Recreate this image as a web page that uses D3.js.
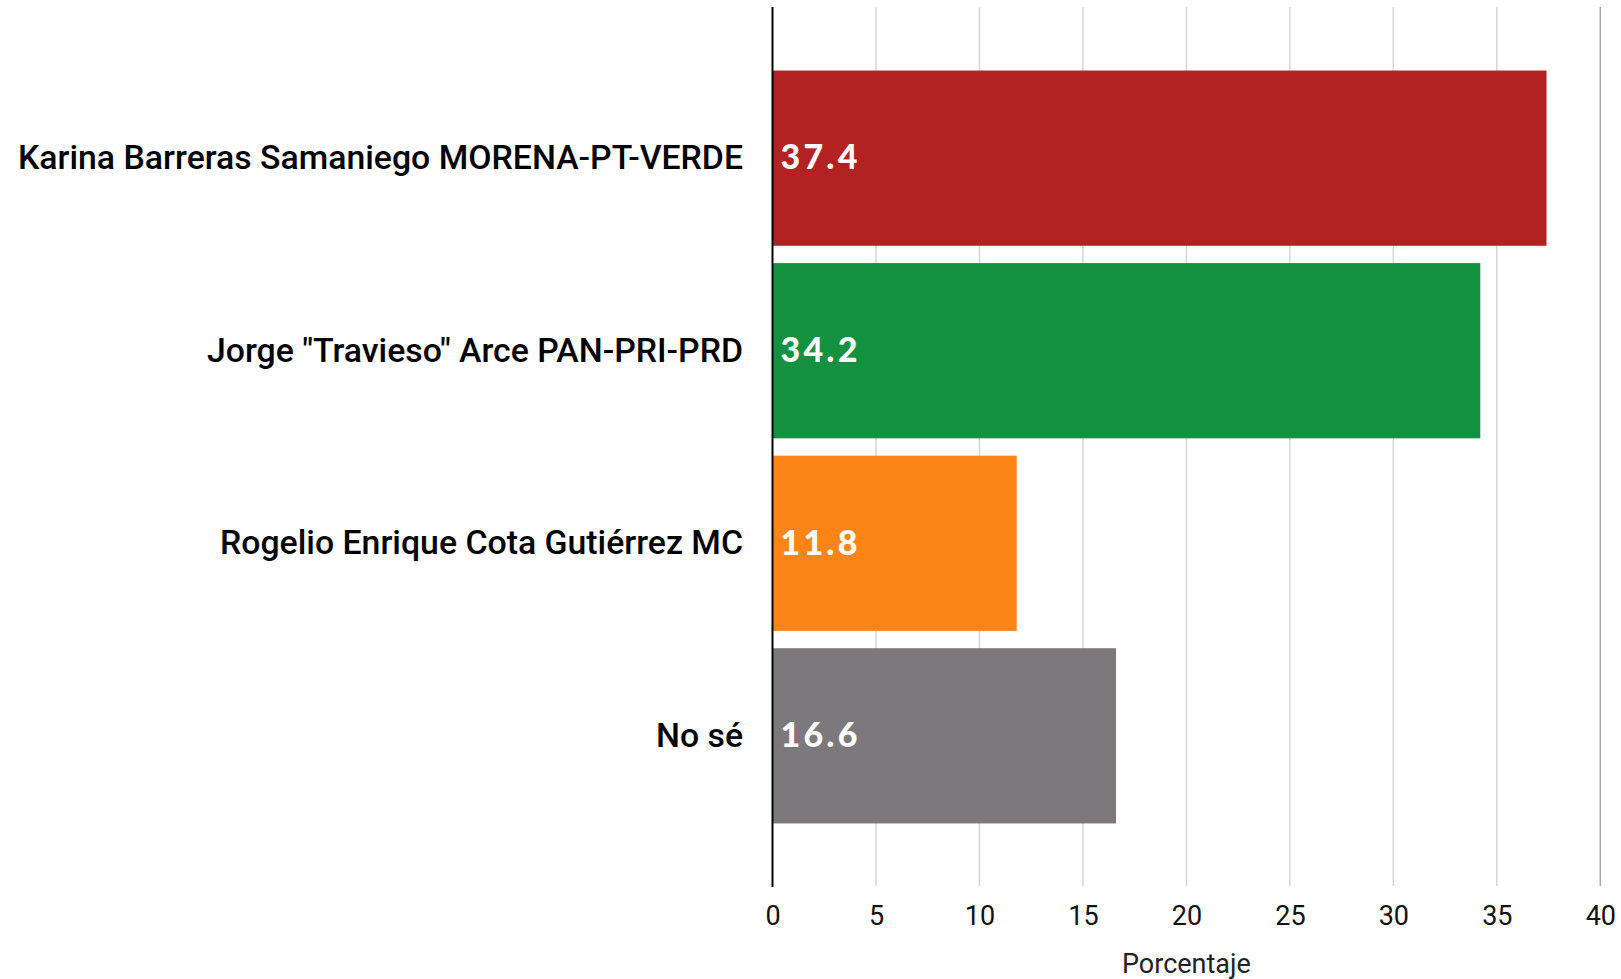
<!DOCTYPE html>
<html>
<head>
<meta charset="utf-8">
<script src="https://cdn.jsdelivr.net/npm/d3@7/dist/d3.min.js"></script>
<style>
  html, body { margin: 0; padding: 0; background: #ffffff; }
  svg { display: block; }
</style>
</head>
<body>
<svg id="chart" width="1621" height="979"></svg>
<script>
const categories = [
  "Karina Barreras Samaniego MORENA-PT-VERDE",
  "Jorge \"Travieso\" Arce PAN-PRI-PRD",
  "Rogelio Enrique Cota Gutiérrez MC",
  "No sé"
];
const values = [37.4, 34.2, 11.8, 16.6];
const barColors = ["#b22222", "#139140", "#fd8518", "#7c787c"];
const xTicks = [0, 5, 10, 15, 20, 25, 30, 35, 40];
const xTitle = "Porcentaje";

(function () {
const svg = d3.select("#chart");
const plotLeft = 772.5, plotRight = 1600.3, plotTop = 7, plotBottom = 887;

const x = d3.scaleLinear().domain([0, 40]).range([plotLeft, plotRight]);
const y = d3.scaleBand().domain(categories).range([plotTop, plotBottom])
  .paddingInner(0.09).paddingOuter(0.33);

// gridlines
svg.append("g").selectAll("line").data(xTicks.filter(d => d > 0)).join("line")
  .attr("x1", d => x(d)).attr("x2", d => x(d))
  .attr("y1", plotTop).attr("y2", plotBottom - 1)
  .attr("stroke", d => d === 40 ? "#a8a8a8" : "#d6d6d6")
  .attr("stroke-width", 1.5);

// bars
svg.append("g").selectAll("rect").data(categories).join("rect")
  .attr("x", x(0))
  .attr("y", d => y(d))
  .attr("width", (d, i) => x(values[i]) - x(0))
  .attr("height", y.bandwidth())
  .attr("fill", (d, i) => barColors[i]);

// value labels
svg.append("g").selectAll("text").data(categories).join("text")
  .attr("x", x(0) + 8)
  .attr("y", d => y(d) + y.bandwidth() / 2 - 1)
  .attr("dy", "0.36em")
  .attr("fill", "#ffffff")
  .style("font-family", "Lato, 'Open Sans', sans-serif")
  .style("font-weight", 900)
  .style("font-size", "34px")
  .style("letter-spacing", "3.2px")
  .text((d, i) => values[i].toFixed(1));

// zero axis line
svg.append("line")
  .attr("x1", x(0)).attr("x2", x(0))
  .attr("y1", plotTop).attr("y2", plotBottom)
  .attr("stroke", "#000").attr("stroke-width", 2);

// category labels
svg.append("g").selectAll("text").data(categories).join("text")
  .attr("x", x(0) - 29.5)
  .attr("y", d => y(d) + y.bandwidth() / 2 - 1)
  .attr("dy", "0.35em")
  .attr("text-anchor", "end")
  .attr("fill", "#000")
  .style("font-family", "Roboto, sans-serif")
  .style("font-weight", 500)
  .style("font-size", "33.8px")
  .text(d => d);

// x axis tick labels
const xAxis = d3.axisBottom(x).tickValues(xTicks).tickSize(0).tickPadding(0);
const gx = svg.append("g").attr("transform", `translate(0, ${plotBottom})`).call(xAxis);
gx.select(".domain").remove();
gx.selectAll("text")
  .attr("y", 28)
  .attr("dy", "0.36em")
  .attr("fill", "#111")
  .style("font-family", "Roboto, sans-serif")
  .style("font-size", "27px");

// x axis title
svg.append("text")
  .attr("x", x(20))
  .attr("y", 972.5)
  .attr("text-anchor", "middle")
  .attr("fill", "#222")
  .style("font-family", "Roboto, sans-serif")
  .style("font-size", "27px")
  .text(xTitle);
})();
</script>
</body>
</html>
